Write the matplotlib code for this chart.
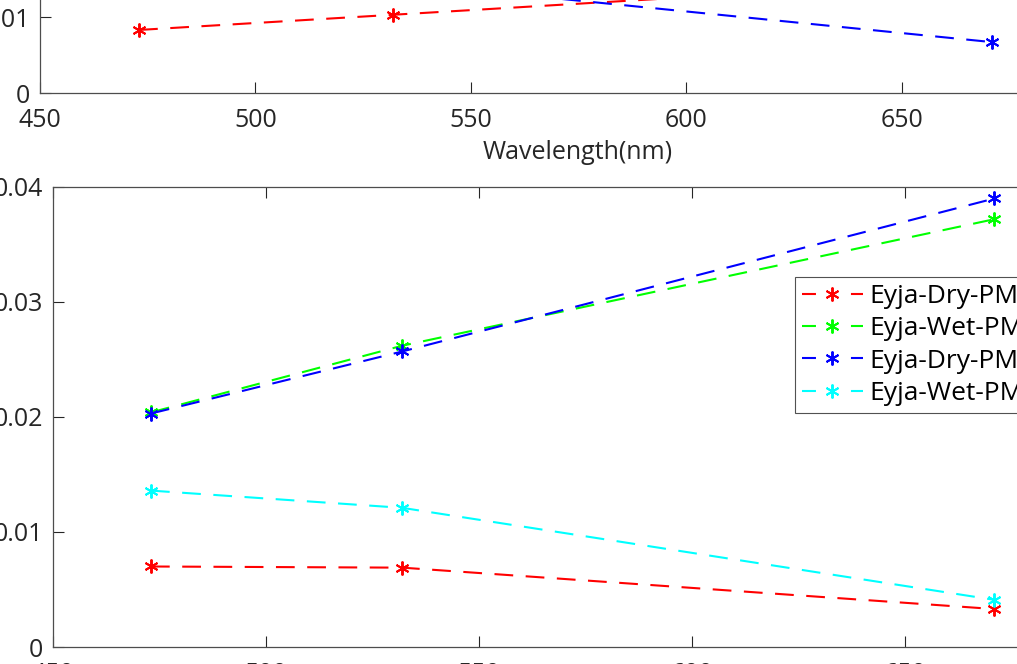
import numpy as np
import matplotlib.pyplot as plt

plt.rcParams['font.family'] = ['Open Sans', 'DejaVu Sans']

# wavelengths of the three measurement channels (nm)
wl = [473, 532, 671]

# upper panel
up_dry_pm1 = [0.0083, 0.0103, 0.0150]
up_dry_pm25 = [0.0152, 0.0146, 0.0067]

# lower panel
dry_pm1 = [0.0070, 0.0069, 0.0033]
wet_pm1 = [0.0204, 0.0262, 0.0372]
dry_pm25 = [0.0203, 0.0257, 0.0390]
wet_pm25 = [0.0136, 0.0121, 0.0041]

labels = ['Eyja-Dry-PM1', 'Eyja-Wet-PM1', 'Eyja-Dry-PM2.5', 'Eyja-Wet-PM2.5']
colors = ['#ff0000', '#00ff00', '#0000ff', '#00ffff']

xticks = [450, 500, 550, 600, 650, 700]
tick_col = '#262626'

fig = plt.figure(figsize=(10.17, 6.64), dpi=100)

ax1 = fig.add_axes([0.0393, 0.8599, 1.059, 0.2289])
ax2 = fig.add_axes([0.0521, 0.0256, 1.0472, 0.6928])

style = dict(marker=(6, 2, 0), markersize=10, markeredgewidth=1.4,
             linewidth=1.5, dashes=(9, 6))


def setup(ax, ymax, yticks, ylabels):
    ax.set_xlim(450, 700)
    ax.set_ylim(0, ymax)
    ax.set_xticks(xticks)
    ax.set_yticks(yticks)
    ax.set_yticklabels(ylabels)
    ax.tick_params(direction='in', length=8, width=0.8, colors=tick_col,
                   labelsize=18, top=True, right=True, pad=7)
    ax.tick_params(axis='x', pad=11)
    for s in ax.spines.values():
        s.set_color('0.3')
        s.set_linewidth(0.9)


ax1.plot(wl, up_dry_pm1, color=colors[0], **style)
ax1.plot(wl, up_dry_pm25, color=colors[2], **style)
setup(ax1, 0.02, [0, 0.01, 0.02], ['0', '0.01', '0.02'])
ax1.set_xlabel('Wavelength(nm)', fontsize=18, color=tick_col)
ax1.xaxis.set_label_coords(538 / 1077, -0.31)

for y, c, lab in zip([dry_pm1, wet_pm1, dry_pm25, wet_pm25], colors, labels):
    ax2.plot(wl, y, color=c, label=lab, **style)
setup(ax2, 0.04, [0, 0.01, 0.02, 0.03, 0.04],
      ['0', '0.01', '0.02', '0.03', '0.04'])

leg = ax2.legend(loc='upper left', bbox_to_anchor=(795 / 1017, 1 - 277 / 664),
                 bbox_transform=fig.transFigure, fontsize=19, frameon=True,
                 fancybox=False, borderaxespad=0, borderpad=0.26,
                 handlelength=2.3, handletextpad=0.25, labelspacing=0.28)
leg.get_frame().set_edgecolor('0.15')
leg.get_frame().set_linewidth(0.8)
# short dash, marker, short dash in each legend key
for ln in leg.get_lines():
    ln.set_dashes((6.7, 16.8))

fig.savefig('out.png', dpi=100)
